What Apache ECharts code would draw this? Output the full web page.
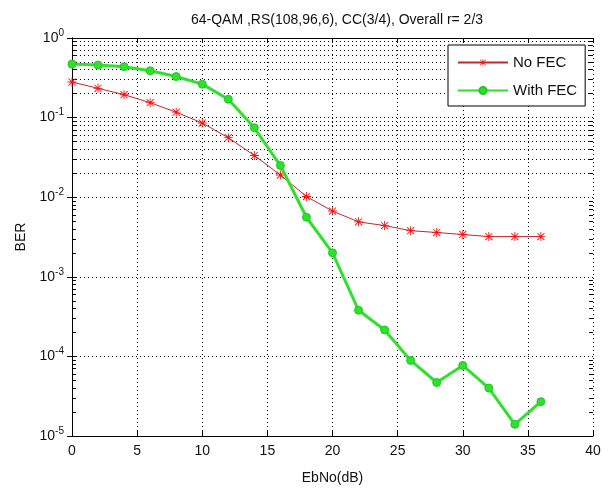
<!DOCTYPE html>
<html>
<head>
<meta charset="utf-8">
<script src="https://cdn.jsdelivr.net/npm/echarts@6/dist/echarts.min.js"></script>
<style>
  html, body { margin: 0; padding: 0; background: #fff; }
  #berchart { width: 608px; height: 490px; }
</style>
</head>
<body>
<div id="berchart"></div>
<script>
// BER curves
var ebno = [0, 2, 4, 6, 8, 10, 12, 14, 16, 18, 20, 22, 24, 26, 28, 30, 32, 34, 36];
var noFec = [0.28, 0.233, 0.194, 0.154, 0.117, 0.0855, 0.056, 0.0334, 0.019, 0.0102,
    0.0067, 0.0049, 0.0044, 0.0038, 0.0036, 0.0034, 0.0032, 0.0032, 0.0032];
var withFec = [0.47, 0.457, 0.436, 0.387, 0.328, 0.263, 0.17, 0.0745, 0.025, 0.0056,
    0.0020, 3.8e-4, 2.15e-4, 8.9e-5, 4.7e-5, 7.7e-5, 4.0e-5, 1.4e-5, 2.7e-5];
var decades = [-5, -4, -3, -2, -1];
var minorMant = [2, 3, 4, 5, 6, 7, 8, 9];

var fontFam = "'Liberation Sans', Arial, sans-serif";
var asterisk = 'path://M9 0L11 0L11 20L9 20Z M0 9L20 9L20 11L0 11Z ' +
    'M1.4 2.8L2.8 1.4L18.6 17.2L17.2 18.6Z M17.2 1.4L18.6 2.8L2.8 18.6L1.4 17.2Z';

function pairs(a, b) {
    var out = [];
    for (var i = 0; i < a.length; i++) out.push([a[i], b[i]]);
    return out;
}

// log minor grid lines + small inward ticks (like matlab semilogy)
var minorGrid = [];
var minorTicks = [];
decades.forEach(function (d) {
    minorMant.forEach(function (m) {
        var v = m * Math.pow(10, d);
        minorGrid.push({ yAxis: v });
        minorTicks.push([{ coord: [0, v] }, { coord: [0.3, v] }]);
        minorTicks.push([{ coord: [39.7, v] }, { coord: [40, v] }]);
    });
});

var chart = echarts.init(document.getElementById('berchart'));

var dotted = { color: '#000', width: 1, type: [1, 3] };

var option = {
    animation: false,
    backgroundColor: '#fff',
    textStyle: { fontFamily: fontFam },
    title: {
        text: '64-QAM ,RS(108,96,6), CC(3/4), Overall r= 2/3',
        left: 332,
        textAlign: 'center',
        top: 8,
        textStyle: { fontSize: 14, fontWeight: 'normal', color: '#111', fontFamily: fontFam }
    },
    legend: {
        data: ['No FEC', 'With FEC'],
        orient: 'vertical',
        left: 448,
        top: 45,
        z: 10,
        itemWidth: 50,
        itemHeight: 9,
        itemGap: 13,
        padding: [10, 8, 8, 9],
        backgroundColor: '#fff',
        borderColor: '#000',
        borderWidth: 1,
        borderRadius: 0,
        textStyle: { fontSize: 15, color: '#111', fontFamily: fontFam }
    },
    grid: { left: 72, right: 15, top: 38, bottom: 42 },
    xAxis: [{
        type: 'value',
        min: 0,
        max: 40,
        interval: 5,
        name: 'EbNo(dB)',
        nameLocation: 'middle',
        nameGap: 35,
        nameTextStyle: { fontSize: 14, color: '#111' },
        axisLine: { lineStyle: { color: '#000' } },
        axisTick: { inside: true, length: 5, lineStyle: { color: '#000' } },
        axisLabel: { fontSize: 14, color: '#111', margin: 8 },
        splitLine: { lineStyle: dotted }
    }, {
        type: 'value',
        position: 'top',
        min: 0,
        max: 40,
        interval: 5,
        axisLine: { lineStyle: { color: '#000' } },
        axisTick: { inside: true, length: 5, lineStyle: { color: '#000' } },
        axisLabel: { show: false },
        splitLine: { show: false }
    }],
    yAxis: [{
        type: 'log',
        logBase: 10,
        min: 1e-5,
        max: 1,
        name: 'BER',
        nameLocation: 'middle',
        nameGap: 44,
        nameTextStyle: { fontSize: 14, color: '#111' },
        axisLine: { show: true, lineStyle: { color: '#000' } },
        axisTick: { inside: true, length: 5, lineStyle: { color: '#000' } },
        axisLabel: {
            margin: 8,
            formatter: function (v) {
                return '{b|10}{s|' + Math.round(Math.log10(v)) + '}';
            },
            rich: {
                b: { fontSize: 14, color: '#111', fontFamily: fontFam },
                s: { fontSize: 10, color: '#111', fontFamily: fontFam, padding: [0, 0, 10, 0] }
            }
        },
        splitLine: { lineStyle: dotted }
    }, {
        type: 'log',
        logBase: 10,
        min: 1e-5,
        max: 1,
        position: 'right',
        axisLine: { show: true, lineStyle: { color: '#000' } },
        axisTick: { inside: true, length: 5, lineStyle: { color: '#000' } },
        axisLabel: { show: false },
        splitLine: { show: false }
    }],
    series: [{
        name: 'minorGrid',
        type: 'line',
        data: [],
        z: 1,
        silent: true,
        markLine: {
            z: 1,
            silent: true,
            symbol: 'none',
            label: { show: false },
            lineStyle: dotted,
            data: minorGrid
        }
    }, {
        name: 'minorTicks',
        type: 'line',
        data: [],
        z: 1,
        silent: true,
        markLine: {
            z: 1,
            silent: true,
            symbol: 'none',
            label: { show: false },
            lineStyle: { color: '#000', width: 1, type: 'solid' },
            data: minorTicks
        }
    }, {
        name: 'No FEC',
        type: 'line',
        z: 3,
        data: pairs(ebno, noFec),
        symbol: asterisk,
        symbolSize: 9,
        lineStyle: { color: '#c0282e', width: 1 },
        itemStyle: { color: '#ee1616', borderWidth: 0 }
    }, {
        name: 'With FEC',
        type: 'line',
        z: 4,
        data: pairs(ebno, withFec),
        symbol: 'circle',
        symbolSize: 8,
        lineStyle: { color: '#2fe02f', width: 3 },
        itemStyle: { color: '#2fe02f', borderColor: '#22c822', borderWidth: 1 }
    }]
};

chart.setOption(option, true);
</script>
</body>
</html>
